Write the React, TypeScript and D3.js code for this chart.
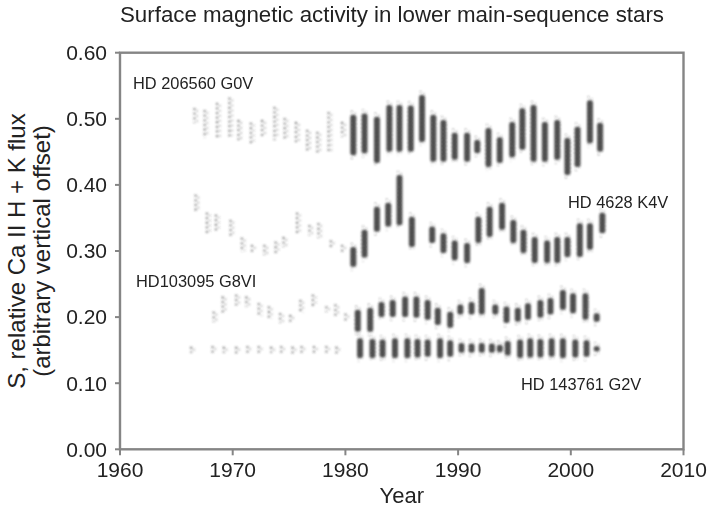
import React from "react";
import * as d3 from "d3";

// ---- data: seasonal clusters (year, low S, high S) ----
const years206560 = [1966.7, 1967.6, 1968.7, 1969.8, 1970.6, 1971.7, 1972.7, 1973.8, 1974.7, 1975.7, 1976.7, 1977.6, 1978.6, 1979.8, 1980.7, 1981.7, 1982.8, 1983.9, 1984.8, 1985.8, 1986.8, 1987.8, 1988.7, 1989.7, 1990.8, 1991.7, 1992.7, 1993.7, 1994.8, 1995.7, 1996.7, 1997.7, 1998.8, 1999.7, 2000.6, 2001.7, 2002.6];
const lo206560 = [0.494, 0.471, 0.471, 0.473, 0.468, 0.463, 0.471, 0.468, 0.468, 0.465, 0.450, 0.448, 0.448, 0.473, 0.445, 0.448, 0.433, 0.450, 0.450, 0.450, 0.465, 0.435, 0.435, 0.438, 0.435, 0.448, 0.427, 0.433, 0.442, 0.453, 0.435, 0.435, 0.438, 0.415, 0.427, 0.463, 0.450];
const hi206560 = [0.516, 0.513, 0.524, 0.532, 0.498, 0.494, 0.498, 0.518, 0.501, 0.495, 0.483, 0.480, 0.510, 0.495, 0.506, 0.508, 0.503, 0.521, 0.521, 0.520, 0.536, 0.506, 0.498, 0.479, 0.479, 0.468, 0.486, 0.472, 0.495, 0.516, 0.521, 0.495, 0.498, 0.471, 0.488, 0.528, 0.494];

const years4628 = [1966.8, 1967.8, 1968.6, 1969.9, 1970.9, 1971.8, 1972.9, 1973.9, 1974.6, 1975.8, 1976.9, 1977.7, 1978.8, 1979.8, 1980.7, 1981.7, 1982.8, 1983.8, 1984.8, 1985.9, 1987.7, 1988.7, 1989.7, 1990.8, 1991.8, 1992.8, 1993.9, 1994.9, 1995.8, 1996.8, 1997.9, 1998.8, 1999.7, 2000.8, 2001.7, 2002.8];
const lo4628 = [0.358, 0.327, 0.329, 0.321, 0.299, 0.297, 0.294, 0.297, 0.306, 0.324, 0.324, 0.320, 0.306, 0.299, 0.276, 0.290, 0.329, 0.337, 0.339, 0.306, 0.312, 0.297, 0.286, 0.282, 0.312, 0.321, 0.332, 0.312, 0.297, 0.282, 0.282, 0.282, 0.291, 0.291, 0.302, 0.327];
const hi4628 = [0.385, 0.358, 0.355, 0.347, 0.320, 0.309, 0.309, 0.314, 0.321, 0.358, 0.339, 0.342, 0.316, 0.309, 0.306, 0.332, 0.367, 0.373, 0.415, 0.352, 0.337, 0.327, 0.316, 0.312, 0.352, 0.367, 0.373, 0.347, 0.332, 0.321, 0.316, 0.321, 0.321, 0.342, 0.342, 0.358];

const years103095 = [1968.4, 1969.2, 1970.4, 1971.3, 1972.4, 1973.3, 1974.3, 1975.2, 1976.1, 1977.2, 1978.4, 1979.2, 1980.1, 1981.1, 1982.2, 1983.2, 1984.2, 1985.3, 1986.3, 1987.3, 1988.2, 1989.3, 1990.2, 1991.2, 1992.1, 1993.3, 1994.3, 1995.3, 1996.2, 1997.3, 1998.2, 1999.3, 2000.2, 2001.3, 2002.3];
const lo103095 = [0.193, 0.204, 0.218, 0.216, 0.200, 0.196, 0.191, 0.193, 0.206, 0.214, 0.208, 0.200, 0.195, 0.178, 0.178, 0.200, 0.200, 0.200, 0.199, 0.196, 0.188, 0.184, 0.204, 0.204, 0.204, 0.204, 0.191, 0.193, 0.196, 0.199, 0.204, 0.211, 0.206, 0.196, 0.193];
const hi103095 = [0.208, 0.231, 0.234, 0.231, 0.221, 0.216, 0.206, 0.203, 0.226, 0.234, 0.216, 0.219, 0.205, 0.211, 0.214, 0.223, 0.226, 0.231, 0.231, 0.226, 0.214, 0.208, 0.219, 0.223, 0.244, 0.219, 0.216, 0.214, 0.221, 0.226, 0.229, 0.241, 0.236, 0.236, 0.206];

const years143761 = [1966.4, 1968.3, 1969.3, 1970.4, 1971.4, 1972.4, 1973.5, 1974.4, 1975.4, 1976.2, 1977.3, 1978.4, 1979.3, 1981.3, 1982.4, 1983.3, 1984.4, 1985.5, 1986.4, 1987.3, 1988.4, 1989.3, 1990.3, 1991.2, 1992.1, 1993.0, 1993.7, 1994.4, 1995.5, 1996.4, 1997.3, 1998.3, 1999.3, 2000.4, 2001.4, 2002.3];
const lo143761 = [0.146, 0.146, 0.146, 0.145, 0.146, 0.145, 0.146, 0.145, 0.145, 0.146, 0.145, 0.145, 0.144, 0.138, 0.138, 0.139, 0.138, 0.138, 0.139, 0.140, 0.138, 0.140, 0.146, 0.146, 0.146, 0.146, 0.147, 0.142, 0.138, 0.139, 0.139, 0.140, 0.138, 0.139, 0.140, 0.148];
const hi143761 = [0.155, 0.156, 0.155, 0.155, 0.156, 0.156, 0.155, 0.156, 0.155, 0.156, 0.156, 0.156, 0.155, 0.168, 0.167, 0.166, 0.168, 0.168, 0.167, 0.166, 0.168, 0.165, 0.161, 0.160, 0.161, 0.160, 0.158, 0.164, 0.166, 0.168, 0.167, 0.168, 0.168, 0.166, 0.165, 0.156];

const starNames = ["HD 206560 G0V", "HD 4628 K4V", "HD103095 G8VI", "HD 143761 G2V"];
const yTicks = [0, 0.1, 0.2, 0.3, 0.4, 0.5, 0.6];
const xTicks = [1960, 1970, 1980, 1990, 2000, 2010];

const title = "Surface magnetic activity in lower main-sequence stars";
const yLabel1 = "S, relative Ca II H + K flux";
const yLabel2 = "(arbitrary vertical offset)";
const xLabel = "Year";

const series = [
  { years: years206560, lo: lo206560, hi: hi206560 },
  { years: years4628, lo: lo4628, hi: hi4628 },
  { years: years103095, lo: lo103095, hi: hi103095 },
  { years: years143761, lo: lo143761, hi: hi143761 },
];

const W = 709;
const H = 509;
const M = { left: 120, right: 683.5, top: 52.7, bottom: 449.3 };
const FONT = "'Liberation Sans', Arial, Helvetica, sans-serif";

export default function App() {
  const x = d3.scaleLinear().domain([1960, 2010]).range([M.left, M.right]);
  const y = d3.scaleLinear().domain([0, 0.6]).range([M.bottom, M.top]);
  const axisColor = "#858585";
  const labelPos = [
    { x: 133, y: 89 },
    { x: 568, y: 208 },
    { x: 136, y: 287 },
    { x: 521, y: 390 },
  ];

  return (
    <svg width={W} height={H} style={{ position: "absolute", left: 0, top: 0, background: "#fff" }}>
      <defs>
        <filter id="smudge" x="-50%" y="-20%" width="200%" height="140%">
          <feGaussianBlur stdDeviation="0.8" />
        </filter>
      </defs>
      <rect x={0} y={0} width={W} height={H} fill="#fff" />

      {/* data */}
      <g filter="url(#smudge)">
        {series.map((s, si) =>
          s.years.map((yr, i) => {
            const dense = yr > 1980.5;
            const cx = x(yr);
            const top = y(s.hi[i]);
            const bot = y(s.lo[i]);
            if (dense) {
              return (
                <g key={`${si}-${i}`}>
                  <rect x={cx - 3} y={top} width={6} height={bot - top} fill="#222" opacity={0.78} rx={2.5} />
                  <line x1={cx - 1.5} x2={cx - 1.5} y1={top - 4} y2={bot + 4} stroke="#333" strokeWidth={1.4} strokeDasharray="1.3 2.6" opacity={0.55} />
                  <line x1={cx + 1.8} x2={cx + 1.8} y1={top - 2} y2={bot + 2} stroke="#333" strokeWidth={1.2} strokeDasharray="1.2 3" opacity={0.45} />
                </g>
              );
            }
            return (
              <g key={`${si}-${i}`}>
                <line x1={cx - 1} x2={cx - 1} y1={top} y2={bot} stroke="#3a3a3a" strokeWidth={2} strokeDasharray="1.8 2.8" opacity={0.7} />
                <line x1={cx + 1.8} x2={cx + 1.8} y1={top + 2} y2={bot - 1} stroke="#555" strokeWidth={1.6} strokeDasharray="1.6 3.4" opacity={0.5} />
              </g>
            );
          })
        )}
      </g>

      {/* frame */}
      <rect x={M.left} y={M.top} width={M.right - M.left} height={M.bottom - M.top} fill="none" stroke={axisColor} strokeWidth={2.4} />

      {/* y ticks */}
      {yTicks.map((t) => (
        <g key={`yt${t}`}>
          <line x1={M.left - 5} x2={M.left} y1={y(t)} y2={y(t)} stroke={axisColor} strokeWidth={2} />
          <text x={107} y={y(t)} dy="0.35em" textAnchor="end" fontFamily={FONT} fontSize={21} fill="#222">
            {d3.format(".2f")(t)}
          </text>
        </g>
      ))}

      {/* x ticks */}
      {xTicks.map((t) => (
        <g key={`xt${t}`}>
          <line x1={x(t)} x2={x(t)} y1={M.bottom} y2={M.bottom + 6} stroke={axisColor} strokeWidth={2} />
          <text x={x(t)} y={477} textAnchor="middle" fontFamily={FONT} fontSize={21} fill="#222">
            {t}
          </text>
        </g>
      ))}

      {/* star labels */}
      {starNames.map((n, i) => (
        <text key={n} x={labelPos[i].x} y={labelPos[i].y} fontFamily={FONT} fontSize={16.4} fill="#222">
          {n}
        </text>
      ))}

      {/* titles */}
      <text x={392} y={22} textAnchor="middle" fontFamily={FONT} fontSize={22.3} fill="#222">
        {title}
      </text>
      <text x={(M.left + M.right) / 2} y={503} textAnchor="middle" fontFamily={FONT} fontSize={22} fill="#222">
        {xLabel}
      </text>
      <text transform={`translate(25, 251) rotate(-90)`} textAnchor="middle" fontFamily={FONT} fontSize={24} fill="#222">
        {yLabel1}
      </text>
      <text transform={`translate(50, 251) rotate(-90)`} textAnchor="middle" fontFamily={FONT} fontSize={24} fill="#222">
        {yLabel2}
      </text>
    </svg>
  );
}
